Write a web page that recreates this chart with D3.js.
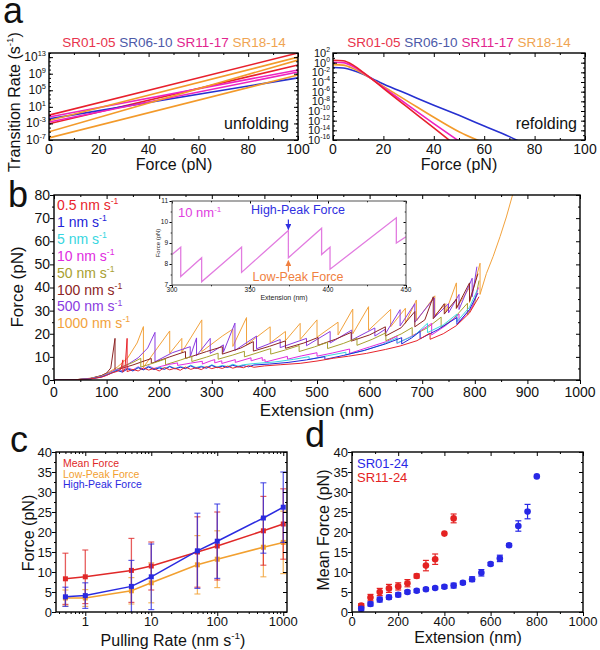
<!DOCTYPE html>
<html><head><meta charset="utf-8">
<script src="https://cdn.jsdelivr.net/npm/d3@7"></script>
<style>body{margin:0;background:#fff}svg{display:block;font-family:"Liberation Sans",Arial,sans-serif}</style>
</head><body><svg id="fig" width="600" height="650"></svg>
<script>
// ================= DATA =================
// Panel a
const seriesA = ["SR01-05","SR06-10","SR11-17","SR18-14"];
const unfoldSeriesIdx   = [0, 0, 1, 2, 2, 3, 3, 3];
const unfoldLogRateAt0  = [-1.0, -3.1, -1.9, -1.45, -2.65, -2.3, -5.0, -6.5];
const unfoldLogRateAt100= [14.0, 11.1, 8.0, 9.9, 9.4, 13.0, 12.3, 8.7];
const refoldSR0105 = [[0,0.5],[4,0.4],[8,-0.5],[12,-2.0],[16,-3.6],[20,-5.3],[30,-9.4],[40,-13.5],[47.5,-16.6]];
const refoldSR0610 = [[0,-1.0],[4,-1.1],[8,-1.6],[12,-2.4],[16,-3.4],[20,-4.4],[30,-6.6],[40,-8.8],[50,-10.9],[60,-13.1],[70,-15.3],[74,-16.3]];
const refoldSR1117 = [[0,0.1],[4,0.0],[8,-0.8],[12,-2.1],[16,-3.6],[20,-5.1],[30,-8.9],[40,-12.6],[51,-16.6]];
const refoldSR1814 = [[0,-0.4],[4,-0.5],[8,-1.2],[12,-2.3],[16,-3.6],[20,-4.9],[30,-8.1],[40,-11.3],[50,-14.3],[60,-16.6]];
const forceTicksA = [0,20,40,60,80,100];
const unfoldExpTicks = [13,9,5,1,-3,-7];
const refoldExpTicks = [2,0,-2,-4,-6,-8,-10,-12,-14,-16];

// Panel b
const rateLabelsB = ["0.5","1","5","10","50","100","500","1000"];
const trace05 = [[0,0],[40,0.1],[70,0.5],[90,1.2],[100,2],[110,3.1],[120,3.7],[127,4.6],[131,8.7],[131,3.4],[135,5],[139,18],[139,3.6],[150,4.6],[160,3.9],[170,5.2],[180,4.3],[190,5.0],[200,3.9],[210,5.4],[220,4.4],[230,5.1],[240,4.2],[250,5.6],[260,4.6],[270,5.3],[280,4.5],[290,5.8],[300,4.9],[310,5.6],[320,5.0],[330,6.0],[340,5.1],[350,5.8],[360,5.3],[370,6.2],[380,5.5],[400,6.1],[430,6.6],[468,7.2],[500,8.2],[531,9.4],[560,10.3],[594,11.5],[630,13.2],[658,14.7],[690,17],[715,20.3],[715,17.6],[740,20],[765,23.5],[790,29],[808,36]];
const trace1 = [[0,0],[40,0.1],[70,0.5],[90,1.3],[100,2.1],[110,3.0],[120,4.1],[130,3.4],[140,4.8],[150,3.9],[160,5.3],[170,4.4],[180,5.6],[190,4.5],[200,5.2],[210,4.6],[220,5.8],[230,4.8],[240,5.5],[250,4.9],[260,6.1],[270,5.0],[280,5.7],[290,5.1],[300,6.3],[310,5.3],[320,6.0],[330,5.4],[340,6.4],[350,5.6],[360,6.2],[370,5.7],[380,6.5],[410,6.9],[445,7.6],[480,8.7],[515,10.1],[515,8.9],[550,10.6],[590,12.8],[630,15.6],[661,18.3],[661,15.6],[680,18.2],[696,21],[696,17.8],[730,21.8],[766,27],[766,24],[790,30.5],[806,37.6]];
const trace5 = [[0,0],[40,0.1],[70,0.6],[90,1.4],[100,2.3],[110,3.3],[120,4.4],[130,3.7],[140,5.0],[150,4.1],[160,5.5],[170,4.5],[180,5.9],[190,4.7],[200,5.5],[210,4.9],[220,6.0],[230,5.0],[240,5.8],[250,5.2],[260,6.4],[270,5.4],[280,6.0],[290,5.4],[300,6.6],[310,5.6],[320,6.3],[330,5.8],[340,6.8],[350,6.0],[360,6.6],[380,7.1],[420,7.8],[455,8.9],[485,10.1],[485,8.9],[520,10.5],[555,12.0],[555,10.9],[590,12.8],[625,15.4],[652,18.2],[652,16.0],[685,19.2],[710,24.5],[710,20.5],[740,23.8],[766,28.5],[766,25.2],[790,31.5],[805,39]];
const trace10 = [[0,0],[40,0.1],[70,0.6],[90,1.5],[100,2.5],[110,3.6],[120,4.7],[130,4.0],[140,5.3],[150,4.4],[160,5.7],[170,4.7],[180,6.1],[190,5.0],[205,6.0],[220,6.8],[235,7.4],[235,6.3],[260,7.3],[282,8.1],[282,6.9],[300,8.45],[305.6,8.8],[305.6,7.4],[319,8.3],[319,7.15],[344.6,8.8],[344.6,7.6],[374.6,9.6],[374.6,8.3],[395.9,9.7],[395.9,8.45],[401.3,8.8],[401.3,7.75],[443.8,10.2],[443.8,9.0],[470,10.4],[500,11.8],[500,10.3],[530,11.7],[562,13.4],[562,11.5],[600,14.3],[632,16.6],[652,19.0],[652,15.8],[685,19.5],[718,24.5],[718,19.5],[745,23.6],[770,28.5],[770,25],[795,31.5],[807,40]];
const trace50 = [[0,0],[40,0.1],[70,0.7],[90,1.7],[100,2.7],[115,4.2],[130,5.8],[150,7.6],[165,9.4],[165,5.6],[190,7.4],[212,9.1],[212,6.6],[240,8.6],[262,10.3],[262,8.0],[290,9.9],[312,11.6],[312,9.0],[340,10.8],[362,12.4],[362,10.0],[390,12.0],[412,13.6],[412,11.2],[440,13.0],[466,14.9],[466,12.3],[495,14.3],[520,16.3],[520,13.6],[550,15.8],[576,18.1],[576,15.0],[605,17.6],[631,20.4],[631,17.0],[660,19.9],[681,22.7],[681,19.1],[710,22.6],[736,27.2],[736,22.6],[760,26.6],[786,33.2],[786,28.2],[800,33.5],[808,43]];
const trace100 = [[0,0],[40,0.1],[70,0.7],[90,1.9],[100,3.0],[108,5.2],[116,18],[116,4.2],[150,6.5],[185,9.3],[185,7.2],[220,10.0],[250,12.3],[250,9.3],[290,12.3],[320,14.4],[320,11.2],[355,13.8],[379,16.6],[379,12.5],[410,14.6],[440,16.9],[440,13.7],[475,16.0],[502,18.4],[502,15.0],[535,17.6],[565,20.6],[565,16.8],[600,19.5],[630,23.0],[630,19.0],[660,22.6],[686,29.6],[686,23.0],[705,26.0],[721,36.0],[721,26.5],[742,33.0],[742,28.5],[765,35.0],[765,31.0],[790,42.0],[790,34.0],[806,46.0]];
const trace500 = [[0,0],[40,0.1],[70,0.7],[90,1.8],[100,2.6],[120,4.4],[140,6.7],[160,9.6],[178,13.8],[192,20.6],[192,7.9],[225,11.8],[259,14.4],[259,10.0],[271,18.2],[271,10.5],[297,18.0],[297,11.5],[322,15.2],[322,12.0],[344,24.6],[344,12.8],[385,19.0],[385,13.5],[430,17.5],[430,14.0],[480,18.0],[480,14.8],[525,21.0],[525,16.0],[566,21.6],[566,17.3],[610,22.5],[610,19.0],[630,22.0],[630,20.0],[658,30.4],[658,23.4],[686,33.0],[686,25.0],[723,35.5],[723,27.0],[750,33.0],[750,29.0],[770,37.0],[770,30.5],[795,44.0],[795,36.0],[804,49.0]];
const trace1000 = [[0,0],[40,0.1],[70,0.8],[90,1.9],[105,3.5],[120,5.5],[140,9.5],[158,16],[170,23.1],[170,5.5],[220,21.2],[220,11.5],[243,18.0],[243,12.0],[281,26.0],[281,12.3],[320,19.0],[340,22.0],[340,14.5],[366,27.0],[366,15.2],[411,23.0],[411,16.0],[440,21.0],[440,17.0],[468,24.5],[468,17.5],[500,26.0],[500,18.5],[540,25.0],[540,19.5],[568,30.7],[568,20.0],[598,31.7],[598,21.5],[640,30.5],[640,23.0],[668,31.0],[668,24.5],[689,34.6],[689,25.5],[724,36.4],[724,28.0],[745,33.0],[745,29.5],[765,42.0],[765,31.0],[790,40.0],[790,33.5],[810,50.5],[810,37.0],[822,46],[835,53.5],[848,62],[860,70.5],[873,81],[880,88]];
const insetTrace = [[300,8.45],[305.6,8.8],[305.6,7.4],[319,8.3],[319,7.15],[344.6,8.8],[344.6,7.6],[374.6,9.6],[374.6,8.3],[395.9,9.7],[395.9,8.45],[401.3,8.8],[401.3,7.75],[443.8,10.2],[443.8,9.0],[450,9.3]];
const insetHighPeak = [374.6, 9.6];
const insetLowPeak  = [374.6, 8.3];

// Panel c
const pullRates = [0.5,1,5,10,50,100,500,1000];
const meanForce = [8.3,8.8,10.4,11.5,15.0,16.5,20.3,22.0];
const meanErr   = [6.4,6.7,8.0,6.0,8.8,8.5,8.6,8.8];
const lowForce  = [3.5,3.5,5.3,7.3,11.8,13.2,16.2,17.4];
const lowErr    = [2.0,2.1,3.3,5.0,7.3,7.1,7.4,7.8];
const highForce = [3.8,4.1,6.4,8.8,15.3,17.7,23.5,26.2];
const highErr   = [2.4,3.2,6.5,8.2,9.4,9.3,8.8,8.8];

// Panel d
const extSR0124 = [40,80,120,160,200,240,280,320,360,400,440,480,520,560,600,640,680,720,760,800];
const forceSR0124 = [0.8,2.0,3.1,3.7,4.3,5.0,5.3,5.7,6.0,6.3,6.6,7.3,8.2,9.8,12.0,13.4,16.7,21.5,25.1,33.9];
const errSR0124 = [0.5,0.5,0.6,0.5,0.5,0.4,0.4,0.4,0.3,0.4,0.6,0.4,0.6,0.8,0.4,0.8,0.4,1.3,1.8,0];
const extSR1124 = [40,80,120,160,200,240,280,320,360,400,440];
const forceSR1124 = [1.6,3.6,5.0,5.9,6.4,7.2,9.0,11.6,13.2,19.6,23.4];
const errSR1124 = [0.5,0.8,0.9,1.0,0.9,0.9,0.5,1.3,1.3,0,1.1];

// ================= STYLES =================
const colA = ["#e8202c","#2630d0","#ee22c0","#f39a2a"];
const colALegend = ["#e8344c","#4d5aa8","#e2248e","#f0a452"];
const colB = ["#e8242c","#2424d8","#38d6e0","#e02ce0","#a8a030","#8c2424","#8a3be0","#f2a23c"];
const colC = {mean:"#e02828", low:"#f2a030", high:"#2a2ae0"};

// ================= HELPERS =================
const svg = d3.select("#fig");
function frame(g, x, y, c) {
  const [xa,xb] = x.range(), [ya,yb] = y.range();
  const tl = c.tl || 4;
  const mk = (axis, tx, ty) => {
    const a = g.append("g").attr("transform",`translate(${tx},${ty})`).call(axis);
    a.select(".domain").remove();
    a.selectAll("text").remove();
    a.selectAll("line").attr("stroke","#000").attr("stroke-width",1);
    return a;
  };
  const oi = c.inAll ? -1 : 1;
  mk(d3.axisBottom(x).tickValues(c.xMajor).tickSize(oi*tl), 0, ya);
  if (c.xMinor) mk(d3.axisBottom(x).tickValues(c.xMinor).tickSize(oi*tl/2), 0, ya);
  mk(d3.axisTop(x).tickValues(c.xMajor).tickSize(-tl), 0, yb);
  if (c.xMinor) mk(d3.axisTop(x).tickValues(c.xMinor).tickSize(-tl/2), 0, yb);
  mk(d3.axisLeft(y).tickValues(c.yMajor).tickSize(oi*tl), xa, 0);
  if (c.yMinor) mk(d3.axisLeft(y).tickValues(c.yMinor).tickSize(oi*tl/2), xa, 0);
  mk(d3.axisRight(y).tickValues(c.yMajor).tickSize(-tl), xb, 0);
  if (c.yMinor) mk(d3.axisRight(y).tickValues(c.yMinor).tickSize(-tl/2), xb, 0);
  g.append("rect").attr("x",xa).attr("y",yb).attr("width",xb-xa).attr("height",ya-yb)
    .attr("fill","none").attr("stroke", c.stroke || "#000").attr("stroke-width", c.sw || 1.4);
}
function xLabels(g, x, vals, yPos, fs, fmt) {
  g.selectAll(null).data(vals).enter().append("text")
    .attr("x", d => x(d)).attr("y", yPos).attr("text-anchor","middle")
    .attr("font-size", fs).attr("fill","#111").text(fmt || (d => d));
}
function yLabels(g, y, vals, xPos, fs, fmt) {
  g.selectAll(null).data(vals).enter().append("text")
    .attr("x", xPos).attr("y", d => y(d) + fs*0.35).attr("text-anchor","end")
    .attr("font-size", fs).attr("fill","#111").text(fmt || (d => d));
}
function supText(t, base, s, after, fs) {
  t.append("tspan").text(base);
  t.append("tspan").attr("dy", -fs*0.42).attr("font-size", fs*0.62).text(s);
  if (after) t.append("tspan").attr("dy", fs*0.42).text(after);
  return t;
}
function yTitle(g, cx, cy, fs) {
  return g.append("text").attr("transform",`translate(${cx},${cy}) rotate(-90)`)
    .attr("text-anchor","middle").attr("font-size",fs).attr("fill","#111");
}
function panelLetter(txt, x, y) {
  svg.append("text").attr("x",x).attr("y",y).attr("font-size",36).attr("fill","#111").text(txt);
}
const defs = svg.append("defs");
function clip(id, x, y) {
  const [xa,xb] = x.range(), [ya,yb] = y.range();
  defs.append("clipPath").attr("id",id).append("rect").attr("x",xa).attr("y",yb).attr("width",xb-xa).attr("height",ya-yb);
}

// ================= PANEL a =================
const gA = svg.append("g");
panelLetter("a", 3, 23);
const xAL = d3.scaleLinear().domain([0,100]).range([49,298]);
const yAL = d3.scaleLog().domain([1e-7,1e14]).range([140,53]);
const xAR = d3.scaleLinear().domain([0,100]).range([333,585]);
const yAR = d3.scaleLog().domain([1e-16,1e2]).range([140,53]);
clip("clipAL", xAL, yAL); clip("clipAR", xAR, yAR);
const decadesL = d3.range(-7,15).map(e => Math.pow(10,e));
const decadesR = d3.range(-16,3).map(e => Math.pow(10,e));

const lineAL = d3.line().x(d => xAL(d[0])).y(d => yAL(Math.pow(10,d[1])));
unfoldLogRateAt0.forEach((v,i) => {
  gA.append("path").attr("d", lineAL([[0,v],[100,unfoldLogRateAt100[i]]]))
    .attr("fill","none").attr("stroke", colA[unfoldSeriesIdx[i]]).attr("stroke-width",1.6)
    .attr("clip-path","url(#clipAL)");
});
const lineAR = d3.line().x(d => xAR(d[0])).y(d => yAR(Math.pow(10,d[1]))).curve(d3.curveMonotoneX);
[[refoldSR0610,1],[refoldSR1814,3],[refoldSR1117,2],[refoldSR0105,0]].forEach(([arr,ci]) => {
  gA.append("path").attr("d", lineAR(arr)).attr("fill","none").attr("stroke", colA[ci])
    .attr("stroke-width",1.6).attr("clip-path","url(#clipAR)");
});
frame(gA, xAL, yAL, {xMajor:forceTicksA, xMinor:[10,30,50,70,90], yMajor:unfoldExpTicks.map(e=>Math.pow(10,e)), yMinor:decadesL, tl:4, inAll:true});
frame(gA, xAR, yAR, {xMajor:forceTicksA, xMinor:[10,30,50,70,90], yMajor:refoldExpTicks.map(e=>Math.pow(10,e)), yMinor:decadesR, tl:4, inAll:true});
xLabels(gA, xAL, forceTicksA, 154, 14);
xLabels(gA, xAR, forceTicksA, 154, 14);
unfoldExpTicks.forEach(e => {
  supText(gA.append("text").attr("x",46).attr("y",yAL(Math.pow(10,e))+4).attr("text-anchor","end").attr("font-size",12).attr("fill","#111"), "10", String(e), null, 12);
});
refoldExpTicks.forEach(e => {
  supText(gA.append("text").attr("x",330).attr("y",yAR(Math.pow(10,e))+4).attr("text-anchor","end").attr("font-size",11).attr("fill","#111"), "10", String(e), null, 11);
});
gA.append("text").attr("x",174).attr("y",170).attr("text-anchor","middle").attr("font-size",16).attr("fill","#111").text("Force (pN)");
gA.append("text").attr("x",459).attr("y",170).attr("text-anchor","middle").attr("font-size",16).attr("fill","#111").text("Force (pN)");
supText(yTitle(gA, 20, 102, 16), "Transition Rate (s", "-1", ")", 16);
gA.append("text").attr("x",289).attr("y",129).attr("text-anchor","end").attr("font-size",16).attr("fill","#111").text("unfolding");
gA.append("text").attr("x",577).attr("y",129).attr("text-anchor","end").attr("font-size",16).attr("fill","#111").text("refolding");
[[174],[459]].forEach(([cx]) => {
  const t = gA.append("text").attr("x",cx).attr("y",47).attr("text-anchor","middle").attr("font-size",13.5);
  seriesA.forEach((s,i) => t.append("tspan").attr("fill",colALegend[i]).text((i? " ":"") + s));
});

// ================= PANEL b =================
const gB = svg.append("g");
panelLetter("b", 8, 207);
const xB = d3.scaleLinear().domain([0,1000]).range([54,580]);
const yB = d3.scaleLinear().domain([0,80]).range([380,195]);
clip("clipB", xB, yB);
const lineB = d3.line().x(d => xB(d[0])).y(d => yB(d[1]));
const tracesB = [trace05, trace1, trace5, trace10, trace50, trace100, trace500, trace1000];
[7,6,5,4,3,2,1,0].forEach(i => {
  gB.append("path").attr("d", lineB(tracesB[i])).attr("fill","none").attr("stroke", colB[i])
    .attr("stroke-width",1).attr("stroke-linejoin","round").attr("clip-path","url(#clipB)");
});
frame(gB, xB, yB, {xMajor:d3.range(0,1001,100), xMinor:d3.range(50,1000,100), yMajor:d3.range(0,81,10), yMinor:d3.range(5,80,10), tl:4});
xLabels(gB, xB, d3.range(0,1001,100), 397, 14);
yLabels(gB, yB, d3.range(0,81,10), 50, 14);
gB.append("text").attr("x",317).attr("y",416).attr("text-anchor","middle").attr("font-size",17).attr("fill","#111").text("Extension (nm)");
yTitle(gB, 23, 287, 17).text("Force (pN)");
rateLabelsB.forEach((r,i) => {
  supText(gB.append("text").attr("x",57).attr("y",210 + i*16.9).attr("font-size",14).attr("fill",colB[i]), r + " nm s", "-1", null, 14);
});

// inset
const gI = svg.append("g");
const xI = d3.scaleLinear().domain([300,450]).range([172,406]);
const yI = d3.scaleLinear().domain([7,11]).range([285,201]);
gI.append("rect").attr("x",172).attr("y",201).attr("width",234).attr("height",84).attr("fill","#fff");
clip("clipI", xI, yI);
gI.append("path").attr("d", d3.line().x(d=>xI(d[0])).y(d=>yI(d[1]))(insetTrace))
  .attr("fill","none").attr("stroke","#e27ce0").attr("stroke-width",1.3).attr("clip-path","url(#clipI)");
frame(gI, xI, yI, {xMajor:[300,350,400,450], xMinor:[325,375,425], yMajor:[7,8,9,10,11], yMinor:[7.5,8.5,9.5,10.5], tl:2.5, stroke:"#555", sw:1});
xLabels(gI, xI, [300,350,400,450], 292, 6.5);
yLabels(gI, yI, [7,8,9,10,11], 168, 6.5);
gI.append("text").attr("x",284).attr("y",300).attr("text-anchor","middle").attr("font-size",7).attr("fill","#222").text("Extension (nm)");
yTitle(gI, 160, 243, 6).attr("fill","#222").text("Force (pN)");
supText(gI.append("text").attr("x",178).attr("y",217).attr("font-size",13).attr("fill","#e040e0"), "10 nm", "-1", null, 13);
gI.append("text").attr("x",298).attr("y",214).attr("text-anchor","middle").attr("font-size",12.5).attr("fill","#3030e0").text("High-Peak Force");
gI.append("text").attr("x",298).attr("y",281).attr("text-anchor","middle").attr("font-size",12.5).attr("fill","#f08040").text("Low-Peak Force");
defs.append("marker").attr("id","ahB").attr("viewBox","0 0 10 10").attr("refX",9).attr("refY",5).attr("markerWidth",5).attr("markerHeight",5).attr("orient","auto")
  .append("path").attr("d","M0,0L10,5L0,10z").attr("fill","#3030e0");
defs.append("marker").attr("id","ahO").attr("viewBox","0 0 10 10").attr("refX",9).attr("refY",5).attr("markerWidth",5).attr("markerHeight",5).attr("orient","auto")
  .append("path").attr("d","M0,0L10,5L0,10z").attr("fill","#f08040");
gI.append("line").attr("x1",xI(insetHighPeak[0])).attr("x2",xI(insetHighPeak[0])).attr("y1",yI(insetHighPeak[1])-11).attr("y2",yI(insetHighPeak[1])-1)
  .attr("stroke","#3030e0").attr("stroke-width",1.2).attr("marker-end","url(#ahB)");
gI.append("line").attr("x1",xI(insetLowPeak[0])).attr("x2",xI(insetLowPeak[0])).attr("y1",yI(insetLowPeak[1])+14).attr("y2",yI(insetLowPeak[1])+3)
  .attr("stroke","#f08040").attr("stroke-width",1.2).attr("marker-end","url(#ahO)");

// ================= PANEL c =================
const gC = svg.append("g");
panelLetter("c", 10, 452);
const xC = d3.scaleLog().domain([0.36,1140]).range([56,287]);
const yC = d3.scaleLinear().domain([0,40]).range([612,452]);
clip("clipC", xC, yC);
const minorC = [0.4,0.5,0.6,0.7,0.8,0.9,2,3,4,5,6,7,8,9,20,30,40,50,60,70,80,90,200,300,400,500,600,700,800,900];
function drawSeriesC(vals, errs, col) {
  const g = gC.append("g").attr("clip-path","url(#clipC)");
  pullRates.forEach((r,i) => {
    const x = xC(r), lo = yC(vals[i]-errs[i]), hi = yC(vals[i]+errs[i]);
    g.append("line").attr("x1",x).attr("x2",x).attr("y1",lo).attr("y2",hi).attr("stroke",col).attr("stroke-width",1.3).attr("opacity",0.75);
    [lo,hi].forEach(yy => g.append("line").attr("x1",x-3).attr("x2",x+3).attr("y1",yy).attr("y2",yy).attr("stroke",col).attr("stroke-width",1.2).attr("opacity",0.75));
  });
  g.append("path").attr("d", d3.line().x((d,i)=>xC(pullRates[i])).y(d=>yC(d))(vals)).attr("fill","none").attr("stroke",col).attr("stroke-width",1.5);
  g.selectAll(null).data(vals).enter().append("rect").attr("x",(d,i)=>xC(pullRates[i])-2.5).attr("y",d=>yC(d)-2.5).attr("width",5).attr("height",5).attr("fill",col);
}
drawSeriesC(lowForce, lowErr, colC.low);
drawSeriesC(meanForce, meanErr, colC.mean);
drawSeriesC(highForce, highErr, colC.high);
frame(gC, xC, yC, {xMajor:[1,10,100,1000], xMinor:minorC, yMajor:d3.range(0,41,5), yMinor:d3.range(2.5,40,5), tl:4});
xLabels(gC, xC, [1,10,100,1000], 626, 13);
yLabels(gC, yC, d3.range(0,41,5), 52, 13);
supText(gC.append("text").attr("x",173).attr("y",646).attr("text-anchor","middle").attr("font-size",16).attr("fill","#111"), "Pulling Rate (nm s", "-1", ")", 16);
yTitle(gC, 34, 533, 16).text("Force (pN)");
[["Mean Force",colC.mean],["Low-Peak Force",colC.low],["High-Peak Force",colC.high]].forEach(([t,c],i) => {
  gC.append("text").attr("x",63).attr("y",467+i*10.5).attr("font-size",10.5).attr("fill",c).text(t);
});

// ================= PANEL d =================
const gD = svg.append("g");
panelLetter("d", 305, 447);
const xD = d3.scaleLinear().domain([0,1000]).range([352,583]);
const yD = d3.scaleLinear().domain([0,40]).range([612,452]);
function drawSeriesD(xs, vals, errs, col) {
  xs.forEach((xv,i) => {
    if (errs[i] > 0) {
      const x = xD(xv), lo = yD(vals[i]-errs[i]), hi = yD(vals[i]+errs[i]);
      gD.append("line").attr("x1",x).attr("x2",x).attr("y1",lo).attr("y2",hi).attr("stroke",col).attr("stroke-width",1.2);
      [lo,hi].forEach(yy => gD.append("line").attr("x1",x-3).attr("x2",x+3).attr("y1",yy).attr("y2",yy).attr("stroke",col).attr("stroke-width",1.2));
    }
  });
  gD.selectAll(null).data(vals).enter().append("circle").attr("cx",(d,i)=>xD(xs[i])).attr("cy",d=>yD(d)).attr("r",3.3).attr("fill",col);
}
drawSeriesD(extSR1124, forceSR1124, errSR1124, "#e42222");
drawSeriesD(extSR0124, forceSR0124, errSR0124, "#2828e6");
frame(gD, xD, yD, {xMajor:d3.range(0,1001,200), xMinor:d3.range(100,1000,200), yMajor:d3.range(0,41,5), yMinor:d3.range(2.5,40,5), tl:4});
xLabels(gD, xD, d3.range(0,1001,200), 626, 13);
yLabels(gD, yD, d3.range(0,41,5), 348, 13);
gD.append("text").attr("x",468).attr("y",643).attr("text-anchor","middle").attr("font-size",16).attr("fill","#111").text("Extension (nm)");
yTitle(gD, 329, 530, 16).text("Mean Force (pN)");
gD.append("text").attr("x",357).attr("y",468).attr("font-size",13).attr("fill","#2828e6").text("SR01-24");
gD.append("text").attr("x",357).attr("y",482).attr("font-size",13).attr("fill","#e42222").text("SR11-24");
</script></body></html>
